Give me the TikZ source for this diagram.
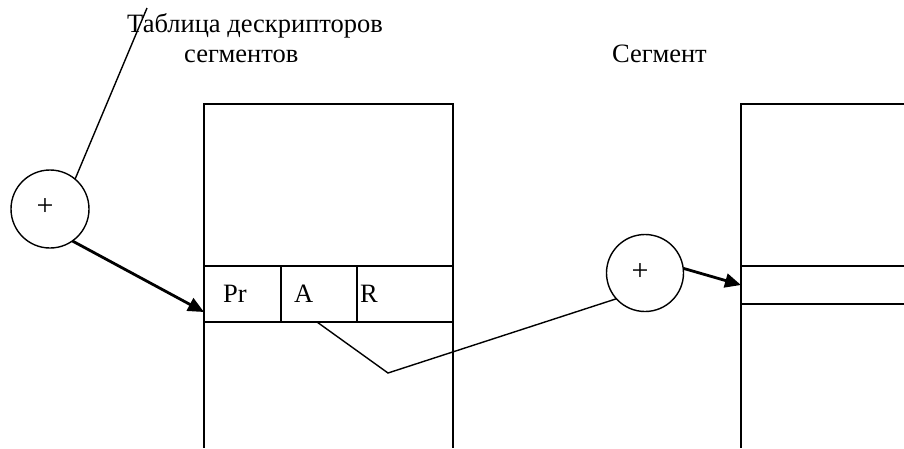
\documentclass[tikz,border=0pt]{standalone}
\usepackage{fontspec}
\setmainfont{Liberation Serif}
\usetikzlibrary{arrows.meta}
\begin{document}
\begin{tikzpicture}[x=1pt,y=-1pt,
  box/.style={draw,line width=1.4pt,inner sep=0pt,outer sep=0pt},
  ring/.style={draw,circle,line width=1.4pt,inner sep=0pt,outer sep=0pt},
  txt/.style={inner sep=0pt,font=\fontsize{26.5}{30}\selectfont},
  pl/.style={inner sep=0pt,font=\fontsize{30}{32}\selectfont},
  thin/.style={line width=1.4pt},
  arr/.style={line width=2.8pt,-{Triangle[length=16pt,width=14pt]}}]
\useasboundingbox[fill=white] (0,0) rectangle (904,448);
% titles
\node[txt,anchor=base west] (t1) at (127,32) {Таблица дескрипторов};
\node[txt,anchor=base west] (t2) at (184,62) {сегментов};
\node[txt,anchor=base west] (t3) at (612,62) {Сегмент};
% descriptor table
\node[box,minimum width=249pt,minimum height=162pt] (tab) at (328.5,185) {};
\node[box,minimum width=77pt,minimum height=56pt] (pr) at (242.5,294) {};
\node[box,minimum width=76pt,minimum height=56pt] (ca) at (319,294) {};
\node[box,minimum width=96pt,minimum height=56pt] (cr) at (405,294) {};
\draw[thin] (pr.south west) -- (204,448);
\draw[thin] (cr.south east) -- (453,448);
\node[txt,anchor=base west] (lpr) at (223,302) {Pr};
\node[txt,anchor=base west] (la) at (294,302) {A};
\node[txt,anchor=base west] (lr) at (360,302) {R};
% segment
\node[box,minimum width=200pt,minimum height=38pt] (seg) at (841,285) {};
\draw[thin] (seg.north west) -- (741,104) -- (910,104);
\draw[thin] (seg.south west) -- (741,448);
% circles
\node[ring,minimum size=78pt] (c1) at (50,209) {};
\node[pl] (p1) at (45,207) {+};
\node[ring,minimum size=77pt] (c2) at (645,273) {};
\node[pl] (p2) at (640,272) {+};
% connectors
\coordinate (top) at (147,8);
\draw[thin] (c1.50) -- (top);
\coordinate (tip1) at (204,312);
\draw[arr] (c1.-55) -- (tip1);
\coordinate (aa) at (317,322);
\coordinate (bend) at (388,373);
\draw[thin] (aa) -- (bend) -- (c2.222);
\draw[arr] (c2.7) -- (seg.west);
\end{tikzpicture}
\end{document}
